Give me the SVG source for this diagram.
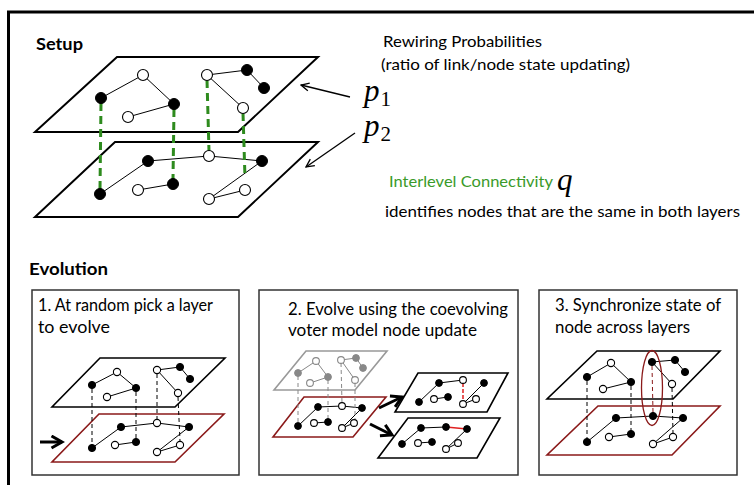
<svg xmlns="http://www.w3.org/2000/svg" width="754" height="485" viewBox="0 0 754 485">
<defs>
<marker id="vhead" viewBox="0 0 10 10" refX="9" refY="5" markerWidth="10" markerHeight="10" markerUnits="userSpaceOnUse" orient="auto">
<path d="M1,1 L9,5 L1,9" fill="none" stroke="#000" stroke-width="1.3"/>
</marker>
<marker id="bhead" viewBox="0 0 10 10" refX="8" refY="5" markerWidth="5" markerHeight="5" orient="auto">
<path d="M1,1 L8,5 L1,9" fill="none" stroke="#000" stroke-width="2"/>
</marker>
</defs>
<style>
.frame{fill:none;stroke:#000;stroke-width:3}
.panel{fill:#fff;stroke:#333;stroke-width:1.5}
.plane{fill:#fff;stroke:#000;stroke-width:2}
.pl{fill:#fff;stroke:#000;stroke-width:1.6}
.red{fill:#fff;stroke:#8b1a1a;stroke-width:1.6}
.gray{fill:#fff;stroke:#999;stroke-width:1.6}
.e{stroke:#000;stroke-width:1;fill:none}
.ge{stroke:#888;stroke-width:1;fill:none}
.b{fill:#000;stroke:#000;stroke-width:1}
.w{fill:#fff;stroke:#000;stroke-width:1.1}
.gb{fill:#888;stroke:#888;stroke-width:1}
.gw{fill:#fff;stroke:#888;stroke-width:1.1}
.gd{stroke:#2e8b1e;stroke-width:3;stroke-dasharray:8 5;fill:none}
.kd{stroke:#000;stroke-width:1;stroke-dasharray:4 3;fill:none}
.gkd{stroke:#888;stroke-width:1;stroke-dasharray:4 3;fill:none}
.rd{stroke:#e02020;stroke-width:1.5;stroke-dasharray:4 2;fill:none}
.rdd{stroke:#8b1a1a;stroke-width:1;stroke-dasharray:4 3;fill:none}
.rs{stroke:#e02020;stroke-width:1.5;fill:none}
.t{font-family:Lato,"Open Sans",sans-serif;font-size:16px;fill:#000}
.pt{font-family:Lato,"Open Sans",sans-serif;font-size:18px;fill:#000}
.h{font-family:Lato,"Open Sans",sans-serif;font-size:17px;font-weight:bold;fill:#000}
.m{font-family:"Liberation Serif",serif;font-style:italic;font-size:31px;fill:#000}
.sub{font-family:"Liberation Serif",serif;font-style:normal;font-size:21px;fill:#000}
.arr{stroke:#000;stroke-width:1.3;fill:none}
.tarr{stroke:#000;stroke-width:3;fill:none}
</style>
<rect width="754" height="485" fill="#fff"/>
<path class="frame" d="M8.5,490 L8.5,12 L760,12"/>

<g id="setup-title"><text class="h" x="36" y="50" textLength="47" lengthAdjust="spacingAndGlyphs">Setup</text></g>

<g id="setup-layer2">
<polygon class="plane" points="115,142 318,142 238,217 35,217"/>
<g class="e"><line x1="100" y1="194" x2="148" y2="161"/><line x1="148" y1="161" x2="209" y2="156"/><line x1="209" y1="156" x2="262" y2="161"/><line x1="138" y1="190" x2="173" y2="184"/><line x1="262" y1="161" x2="209" y2="199"/><line x1="209" y1="199" x2="245" y2="190"/></g>
</g>
<g id="setup-layer1">
<polygon class="plane" points="117,57 318,57 238,132 35,132"/>
<g class="e"><line x1="101" y1="98" x2="143" y2="75"/><line x1="143" y1="75" x2="174" y2="104"/><line x1="174" y1="104" x2="128" y2="117"/><line x1="207" y1="75" x2="247" y2="70"/><line x1="247" y1="70" x2="264" y2="88"/><line x1="207" y1="75" x2="243" y2="108"/></g>
</g>
<g id="setup-interlevel">
<line class="gd" x1="101" y1="103" x2="100" y2="189"/>
<line class="gd" x1="174" y1="109" x2="173" y2="179"/>
<line class="gd" x1="207" y1="80" x2="209" y2="151"/>
<line class="gd" x1="243" y1="113" x2="245" y2="178"/>
</g>
<g id="setup-nodes">
<circle class="b" cx="101" cy="98" r="5.5"/><circle class="w" cx="143" cy="75" r="5.5"/><circle class="b" cx="174" cy="104" r="5.5"/><circle class="w" cx="128" cy="117" r="5.5"/>
<circle class="w" cx="207" cy="75" r="5.5"/><circle class="b" cx="247" cy="70" r="5.5"/><circle class="b" cx="264" cy="88" r="5.5"/><circle class="w" cx="243" cy="108" r="5.5"/>
<circle class="b" cx="100" cy="194" r="5.5"/><circle class="b" cx="148" cy="161" r="5.5"/><circle class="w" cx="209" cy="156" r="5.5"/><circle class="b" cx="262" cy="161" r="5.5"/>
<circle class="w" cx="138" cy="190" r="5.5"/><circle class="b" cx="173" cy="184" r="5.5"/><circle class="w" cx="209" cy="199" r="5.5"/><circle class="w" cx="245" cy="190" r="5.5"/>
</g>

<g id="connectors">
<line class="arr" x1="350" y1="97" x2="301" y2="85" marker-end="url(#vhead)"/>
<line class="arr" x1="355" y1="133" x2="306" y2="167" marker-end="url(#vhead)"/>
</g>

<g id="labels">
<text class="t" x="383" y="47" textLength="159" lengthAdjust="spacingAndGlyphs">Rewiring Probabilities</text>
<text class="t" x="381" y="70" textLength="249" lengthAdjust="spacingAndGlyphs">(ratio of link/node state updating)</text>
<text class="m" x="364" y="101">p<tspan class="sub" dx="1" dy="5">1</tspan></text>
<text class="m" x="364" y="136">p<tspan class="sub" dx="1" dy="5">2</tspan></text>
<text class="t" x="389" y="187" textLength="164" lengthAdjust="spacingAndGlyphs" style="fill:#3a9a2a">Interlevel Connectivity</text>
<text class="m" x="557" y="190">q</text>
<text class="t" x="385" y="217" textLength="355" lengthAdjust="spacingAndGlyphs">identifies nodes that are the same in both layers</text>
</g>

<g id="evolution-title"><text class="h" x="29" y="275" textLength="79" lengthAdjust="spacingAndGlyphs">Evolution</text></g>

<g id="panel1">
<rect class="panel" x="32" y="290" width="207" height="185"/>
<text class="pt" x="38" y="311" textLength="175" lengthAdjust="spacingAndGlyphs">1. At random pick a layer</text>
<text class="pt" x="38" y="333" textLength="72" lengthAdjust="spacingAndGlyphs">to evolve</text>
<polygon class="red" points="99,414 224,414 175,462 52,462"/>
<polygon class="pl" points="100,358 225,358 175,407 52,407"/>
<g class="e">
<line x1="92" y1="385" x2="117" y2="372"/><line x1="117" y1="372" x2="136" y2="388"/><line x1="136" y1="388" x2="107" y2="397"/><line x1="157" y1="370" x2="180" y2="367"/><line x1="180" y1="367" x2="190" y2="379"/><line x1="157" y1="370" x2="178" y2="393"/>
<line x1="92" y1="448" x2="121" y2="427"/><line x1="121" y1="427" x2="157" y2="423"/><line x1="157" y1="423" x2="189" y2="427"/><line x1="115" y1="445" x2="136" y2="442"/><line x1="189" y1="427" x2="157" y2="452"/><line x1="157" y1="452" x2="180" y2="445"/>
</g>
<line class="kd" x1="92" y1="389" x2="92" y2="444"/><line class="kd" x1="136" y1="392" x2="136" y2="438"/><line class="kd" x1="157" y1="374" x2="157" y2="419"/><line class="kd" x1="178" y1="397" x2="180" y2="441"/>
<circle class="b" cx="92" cy="385" r="3.6"/><circle class="w" cx="117" cy="372" r="3.6"/><circle class="b" cx="136" cy="388" r="3.6"/><circle class="w" cx="107" cy="397" r="3.6"/>
<circle class="w" cx="157" cy="370" r="3.6"/><circle class="b" cx="180" cy="367" r="3.6"/><circle class="b" cx="190" cy="379" r="3.6"/><circle class="w" cx="178" cy="393" r="3.6"/>
<circle class="b" cx="92" cy="448" r="3.6"/><circle class="b" cx="121" cy="427" r="3.6"/><circle class="w" cx="157" cy="423" r="3.6"/><circle class="b" cx="189" cy="427" r="3.6"/>
<circle class="w" cx="115" cy="445" r="3.6"/><circle class="b" cx="136" cy="442" r="3.6"/><circle class="w" cx="157" cy="452" r="3.6"/><circle class="w" cx="180" cy="445" r="3.6"/>
<line class="tarr" x1="40" y1="442" x2="62" y2="442" marker-end="url(#bhead)"/>
</g>

<g id="panel2">
<rect class="panel" x="259" y="290" width="259" height="185"/>
<text class="pt" x="288" y="315" textLength="220" lengthAdjust="spacingAndGlyphs">2. Evolve using the coevolving</text>
<text class="pt" x="288" y="336" textLength="189" lengthAdjust="spacingAndGlyphs">voter model node update</text>
<polygon class="gray" points="306,351 387,351 355,390 274,390"/>
<g class="ge"><line x1="298" y1="373" x2="316" y2="361"/><line x1="316" y1="361" x2="328" y2="377"/><line x1="328" y1="377" x2="310" y2="383"/><line x1="341" y1="360" x2="356" y2="358"/><line x1="356" y1="358" x2="363" y2="368"/><line x1="341" y1="360" x2="355" y2="380"/></g>
<polygon class="red" points="304,397 386,397 353,437 273,437"/>
<g class="e"><line x1="298" y1="426" x2="318" y2="407"/><line x1="318" y1="407" x2="342" y2="406"/><line x1="342" y1="406" x2="362" y2="408"/><line x1="314" y1="423" x2="328" y2="422"/><line x1="362" y1="408" x2="342" y2="428"/><line x1="342" y1="428" x2="354" y2="423"/></g>
<line class="gkd" x1="298" y1="376" x2="298" y2="423"/><line class="gkd" x1="328" y1="380" x2="328" y2="419"/><line class="gkd" x1="341" y1="363" x2="342" y2="403"/><line class="gkd" x1="355" y1="383" x2="355" y2="420"/>
<circle class="gb" cx="298" cy="373" r="3.4"/><circle class="gw" cx="316" cy="361" r="3.4"/><circle class="gb" cx="328" cy="377" r="3.4"/><circle class="gw" cx="310" cy="383" r="3.4"/>
<circle class="gw" cx="341" cy="360" r="3.4"/><circle class="gb" cx="356" cy="358" r="3.4"/><circle class="gb" cx="363" cy="368" r="3.4"/><circle class="gw" cx="355" cy="380" r="3.4"/>
<circle class="b" cx="298" cy="426" r="3.4"/><circle class="b" cx="318" cy="407" r="3.4"/><circle class="w" cx="342" cy="406" r="3.4"/><circle class="b" cx="362" cy="408" r="3.4"/>
<circle class="w" cx="314" cy="423" r="3.4"/><circle class="b" cx="328" cy="422" r="3.4"/><circle class="w" cx="342" cy="428" r="3.4"/><circle class="w" cx="354" cy="423" r="3.4"/>
<line class="tarr" x1="379" y1="408" x2="402" y2="397" marker-end="url(#bhead)"/>
<line class="tarr" x1="370" y1="424" x2="392" y2="435" marker-end="url(#bhead)"/>
<polygon class="pl" points="418,373 508,373 487,412 395,412"/>
<g class="e"><line x1="419" y1="402" x2="439" y2="383"/><line x1="439" y1="383" x2="463" y2="380"/><line x1="434" y1="399" x2="448" y2="397"/><line x1="484" y1="383" x2="463" y2="404"/><line x1="463" y1="404" x2="476" y2="399"/></g>
<line class="rd" x1="463" y1="383" x2="463" y2="401"/>
<circle class="b" cx="419" cy="402" r="3.4"/><circle class="b" cx="439" cy="383" r="3.4"/><circle class="w" cx="463" cy="380" r="3.4"/><circle class="b" cx="484" cy="383" r="3.4"/>
<circle class="w" cx="434" cy="399" r="3.4"/><circle class="b" cx="448" cy="397" r="3.4"/><circle class="w" cx="463" cy="404" r="3.4"/><circle class="w" cx="476" cy="399" r="3.4"/>
<polygon class="pl" points="408,418 500,418 477,458 378,458"/>
<g class="e"><line x1="402" y1="444" x2="421" y2="428"/><line x1="421" y1="428" x2="446" y2="427"/><line x1="418" y1="443" x2="432" y2="442"/><line x1="467" y1="429" x2="446" y2="449"/><line x1="446" y1="449" x2="458" y2="443"/></g>
<line class="rs" x1="446" y1="427" x2="467" y2="429"/>
<circle class="b" cx="402" cy="444" r="3.4"/><circle class="b" cx="421" cy="428" r="3.4"/><circle class="b" cx="446" cy="427" r="3.4"/><circle class="b" cx="467" cy="429" r="3.4"/>
<circle class="w" cx="418" cy="443" r="3.4"/><circle class="b" cx="432" cy="442" r="3.4"/><circle class="w" cx="446" cy="449" r="3.4"/><circle class="w" cx="458" cy="443" r="3.4"/>
</g>

<g id="panel3">
<rect class="panel" x="539" y="290" width="198" height="185"/>
<text class="pt" x="555" y="311" textLength="166" lengthAdjust="spacingAndGlyphs">3. Synchronize state of</text>
<text class="pt" x="555" y="333" textLength="135" lengthAdjust="spacingAndGlyphs">node across layers</text>
<polygon class="red" points="598,406 720,406 672,455 547,455"/>
<polygon class="pl" points="597,351 720,351 673,399 547,399"/>
<g class="e">
<line x1="587" y1="377" x2="611" y2="363"/><line x1="611" y1="363" x2="631" y2="382"/><line x1="631" y1="382" x2="603" y2="389"/><line x1="652" y1="362" x2="675" y2="360"/><line x1="675" y1="360" x2="685" y2="372"/><line x1="652" y1="362" x2="672" y2="384"/>
<line x1="587" y1="442" x2="616" y2="418"/><line x1="616" y1="418" x2="653" y2="416"/><line x1="653" y1="416" x2="683" y2="418"/><line x1="609" y1="437" x2="631" y2="434"/><line x1="683" y1="418" x2="653" y2="444"/><line x1="653" y1="444" x2="673" y2="437"/>
</g>
<line class="kd" x1="587" y1="381" x2="587" y2="438"/><line class="kd" x1="631" y1="386" x2="631" y2="430"/><line class="rdd" x1="652" y1="366" x2="653" y2="412"/><line class="kd" x1="672" y1="388" x2="673" y2="433"/>
<circle class="b" cx="587" cy="377" r="3.6"/><circle class="w" cx="611" cy="363" r="3.6"/><circle class="b" cx="631" cy="382" r="3.6"/><circle class="w" cx="603" cy="389" r="3.6"/>
<circle class="b" cx="652" cy="362" r="3.6"/><circle class="b" cx="675" cy="360" r="3.6"/><circle class="b" cx="685" cy="372" r="3.6"/><circle class="w" cx="672" cy="384" r="3.6"/>
<circle class="b" cx="587" cy="442" r="3.6"/><circle class="b" cx="616" cy="418" r="3.6"/><circle class="b" cx="653" cy="416" r="3.6"/><circle class="b" cx="683" cy="418" r="3.6"/>
<circle class="w" cx="609" cy="437" r="3.6"/><circle class="b" cx="631" cy="434" r="3.6"/><circle class="w" cx="653" cy="444" r="3.6"/><circle class="w" cx="673" cy="437" r="3.6"/>
<ellipse cx="652" cy="388" rx="10.5" ry="37.5" fill="none" stroke="#8b1a1a" stroke-width="1.3"/>
</g>
</svg>
